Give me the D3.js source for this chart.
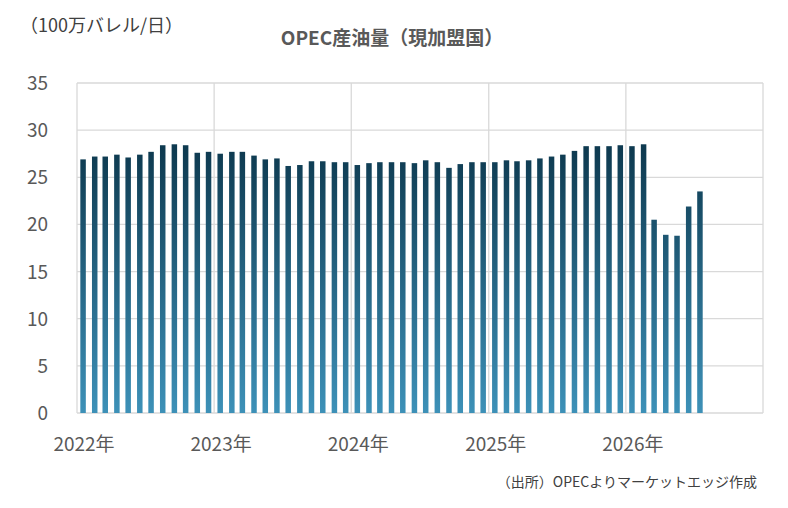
<!DOCTYPE html><html><head><meta charset="utf-8"><script src="https://cdn.jsdelivr.net/npm/d3@7"></script>
<style>body{margin:0;background:#fff}text{font-family:"Noto Sans CJK JP","Noto Sans",sans-serif}</style></head><body>
<svg id="c" width="788" height="508"></svg>
<script>
const months = d3.range(55).map(i => new Date(2022, i, 1));
const values = [26.9,27.2,27.2,27.4,27.1,27.4,27.7,28.4,28.5,28.4,27.6,27.7,
27.5,27.7,27.7,27.3,26.9,27.0,26.2,26.3,26.7,26.7,26.6,26.6,
26.3,26.5,26.6,26.6,26.6,26.5,26.8,26.6,26.0,26.4,26.6,26.6,
26.6,26.8,26.7,26.8,27.0,27.2,27.4,27.8,28.3,28.3,28.3,28.4,
28.3,28.5,20.5,18.9,18.8,21.9,23.5];
const yTicks = [0,5,10,15,20,25,30,35];
const xYears = [2022,2023,2024,2025,2026,2027];
const svg = d3.select("#c");
const L=77,R=763,T=83,B=413;
const x = d3.scaleTime().domain([new Date(2022,0,1), new Date(2027,0,1)]).range([L,R]);
const y = d3.scaleLinear().domain([0,35]).range([B,T]);
const g = svg.append("defs").append("linearGradient").attr("id","gr").attr("gradientUnits","userSpaceOnUse")
 .attr("x1",0).attr("x2",0).attr("y1",y(28)).attr("y2",B);
g.append("stop").attr("offset",0).attr("stop-color","#0e3a50");
g.append("stop").attr("offset",1).attr("stop-color","#3d91b8");
svg.selectAll(".h").data(yTicks).enter().append("line").attr("x1",L).attr("x2",R)
 .attr("y1",d=>y(d)).attr("y2",d=>y(d)).attr("stroke","#d9d9d9").attr("stroke-width",1.3);
svg.selectAll(".v").data(xYears).enter().append("line").attr("x1",d=>x(new Date(d,0,1))).attr("x2",d=>x(new Date(d,0,1)))
 .attr("y1",T).attr("y2",B).attr("stroke","#d9d9d9").attr("stroke-width",1.3);
const mw = x(new Date(2022,1,1))-x(new Date(2022,0,1));
svg.selectAll(".b").data(values).enter().append("rect")
 .attr("x",(d,i)=>x(months[i])+mw/2-3+0.5).attr("width",5.5)
 .attr("y",d=>y(d)).attr("height",d=>B-y(d)).attr("fill","url(#gr)");
svg.selectAll(".yl").data(yTicks).enter().append("text").attr("x",48).attr("y",d=>y(d)+7)
 .attr("text-anchor","end").attr("font-size",19).attr("fill","#595959").text(d=>d);
svg.selectAll(".xl").data(xYears.slice(0,5)).enter().append("text").attr("x",d=>x(new Date(d,0,1))+7).attr("y",451)
 .attr("text-anchor","middle").attr("font-size",19).attr("fill","#595959").text(d=>d+"年");
svg.append("text").attr("x",392).attr("y",45).attr("text-anchor","middle").attr("font-size",19).attr("font-weight","bold").attr("fill","#595959").text("OPEC産油量（現加盟国）");
svg.append("text").attr("x",20).attr("y",32).attr("font-size",18).attr("fill","#404040").text("（100万バレル/日）");
svg.append("text").attr("x",757).attr("y",487).attr("text-anchor","end").attr("font-size",14).attr("fill","#404040").text("（出所）OPECよりマーケットエッジ作成");
</script></body></html>
